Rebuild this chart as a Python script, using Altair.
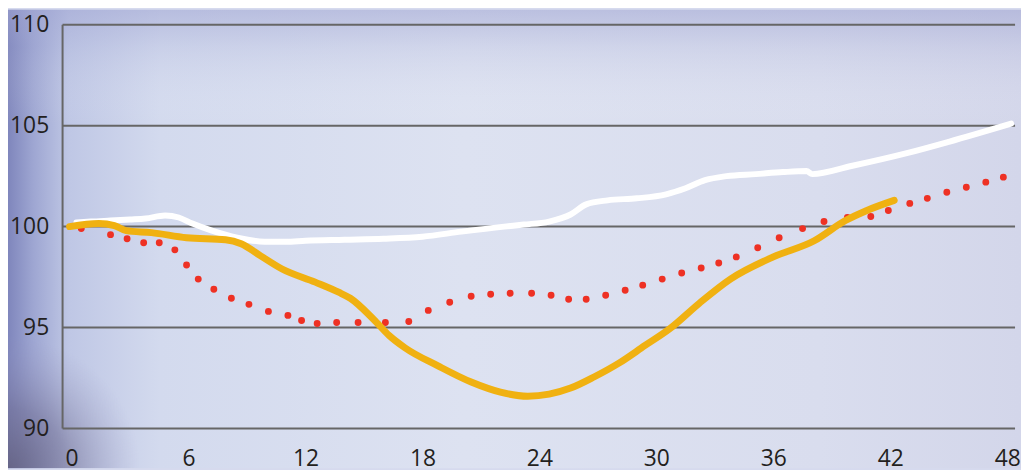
import altair as alt
import pandas as pd

# ---- data ----
white_x = [0.25, 1, 2, 3, 3.8, 4.8, 5.5, 6.2, 7.2, 8.5, 9.9, 11, 12, 14, 16, 18, 20, 22.2, 23.2, 24.5,
           25.6, 26.4, 27.5, 29, 30.5, 31.5, 32.5, 33.6, 35.1, 36.5, 37.7, 38.0, 40, 42.9, 45, 48.2]
white_y = [100.2, 100.25, 100.3, 100.35, 100.4, 100.55, 100.45, 100.15, 99.8, 99.45, 99.25, 99.25, 99.3,
           99.35, 99.4, 99.5, 99.75, 100.0, 100.1, 100.25, 100.6, 101.1, 101.3, 101.4, 101.6, 101.9,
           102.3, 102.5, 102.6, 102.7, 102.75, 102.6, 103.0, 103.65, 104.2, 105.1]

orange_x = [-0.1, 1.4, 2.2, 2.8, 4.1, 5.9, 7.9, 8.7, 9.7, 10.8, 12.5, 13.7, 14.3, 15.5, 16.3, 17.1, 18.8,
            20.5, 22, 23.4, 24.5, 25.6, 26.8, 28.1, 29.4, 30.7, 32.2, 33.8, 36.0, 38.1, 39.7, 40.8, 42.2]
orange_y = [100.0, 100.15, 100.05, 99.8, 99.7, 99.45, 99.35, 99.15, 98.55, 97.9, 97.25, 96.75, 96.45,
            95.4, 94.6, 94.0, 93.1, 92.3, 91.8, 91.6, 91.7, 92.0, 92.55, 93.25, 94.1, 94.95, 96.2, 97.4,
            98.5, 99.3, 100.3, 100.8, 101.3]

red_x = [0.5, 2.0, 2.85, 3.7, 4.5, 5.3, 5.9, 6.5, 7.3, 8.2, 9.1, 10.1, 11.1, 11.8, 12.6, 13.6, 14.7, 16.1,
         17.3, 18.3, 19.4, 20.5, 21.5, 22.5, 23.6, 24.6, 25.5, 26.4, 27.4, 28.4, 29.3, 30.3, 31.3, 32.3,
         33.2, 34.1, 35.2, 36.3, 37.5, 38.6, 39.8, 41.0, 41.9, 43.0, 43.9, 44.9, 45.9, 46.9, 47.8]
red_y = [99.9, 99.6, 99.4, 99.2, 99.2, 98.85, 98.1, 97.4, 96.9, 96.45, 96.15, 95.8, 95.6, 95.35, 95.2,
         95.25, 95.25, 95.25, 95.3, 95.85, 96.25, 96.55, 96.65, 96.7, 96.7, 96.6, 96.4, 96.4, 96.6, 96.85,
         97.1, 97.4, 97.7, 97.95, 98.2, 98.5, 98.95, 99.45, 99.9, 100.25, 100.45, 100.5, 100.8, 101.15,
         101.4, 101.7, 101.95, 102.2, 102.45]

x_ticks = [0, 6, 12, 18, 24, 30, 36, 42, 48]
y_ticks = [90, 95, 100, 105, 110]

W, H = 960, 407
PL, PT, PR, PB = 55, 15, 6, 40

white = pd.DataFrame({"x": white_x, "y": white_y})
orange = pd.DataFrame({"x": orange_x, "y": orange_y})
red = pd.DataFrame({"x": red_x, "y": red_y})
grid = pd.DataFrame({"y": y_ticks})
one = pd.DataFrame({"a": [0]})

xs = alt.Scale(domain=[-0.46, 48.4], nice=False, zero=False)
ys = alt.Scale(domain=[90, 110], nice=False, zero=False)

bg_h = alt.Chart(one).mark_rect(
    fill=alt.Gradient(
        gradient="linear", x1=0, x2=1, y1=0, y2=0,
        stops=[
            alt.GradientStop(color="#7f86bc", offset=0),
            alt.GradientStop(color="#9ea6d2", offset=0.025),
            alt.GradientStop(color="#bfc7e5", offset=0.06),
            alt.GradientStop(color="#d3daee", offset=0.15),
            alt.GradientStop(color="#dde2f1", offset=0.45),
            alt.GradientStop(color="#d9ddee", offset=0.8),
            alt.GradientStop(color="#d3d6ea", offset=1),
        ],
    )
).encode(x=alt.value(-PL), x2=alt.value(W + PR), y=alt.value(-PT), y2=alt.value(H + PB))

bg_v = alt.Chart(one).mark_rect(
    fill=alt.Gradient(
        gradient="linear", x1=0, x2=0, y1=0, y2=1,
        stops=[
            alt.GradientStop(color="rgba(160,165,210,0.55)", offset=0),
            alt.GradientStop(color="rgba(160,165,210,0.2)", offset=0.08),
            alt.GradientStop(color="rgba(255,255,255,0)", offset=0.25),
            alt.GradientStop(color="rgba(255,255,255,0)", offset=1),
        ],
    )
).encode(x=alt.value(-PL), x2=alt.value(W + PR), y=alt.value(-PT), y2=alt.value(H + PB))

# square box (edges outside the visible page) so the radial gradient stays circular
S = W + PR + PL
bg_spot = alt.Chart(one).mark_rect(
    fill=alt.Gradient(
        gradient="radial", x1=0, y1=1, r1=0, x2=0, y2=1, r2=1,
        stops=[
            alt.GradientStop(color="rgba(100,98,130,0.9)", offset=0),
            alt.GradientStop(color="rgba(110,108,145,0.55)", offset=0.059),
            alt.GradientStop(color="rgba(150,150,190,0)", offset=0.13),
            alt.GradientStop(color="rgba(150,150,190,0)", offset=1),
        ],
    )
).encode(x=alt.value(-PL), x2=alt.value(-PL + S), y=alt.value(H + PB - S), y2=alt.value(H + PB))

rules = alt.Chart(grid).mark_rule(color="#666666", strokeWidth=2).encode(
    y=alt.Y("y:Q", scale=ys), x=alt.value(0), x2=alt.value(W)
)
left_axis = alt.Chart(one).mark_rule(color="#666666", strokeWidth=2).encode(
    x=alt.value(0), y=alt.value(0), y2=alt.value(H)
)

red_pts = alt.Chart(red).mark_circle(color="#ee3124", opacity=1, size=48).encode(
    x=alt.X("x:Q", scale=xs), y=alt.Y("y:Q", scale=ys)
)
white_line = alt.Chart(white).mark_line(color="#ffffff", strokeWidth=6, interpolate="monotone",
                                        strokeCap="round").encode(
    x=alt.X("x:Q", scale=xs), y=alt.Y("y:Q", scale=ys)
)
orange_line = alt.Chart(orange).mark_line(color="#f0b111", strokeWidth=7, interpolate="monotone",
                                          strokeCap="round").encode(
    x=alt.X("x:Q", scale=xs,
            axis=alt.Axis(values=x_ticks, title=None, grid=False, domain=False, ticks=False,
                          labelPadding=19, labelFontSize=23, labelFont="Open Sans",
                          labelColor="#231f20", zindex=1, labelFlush=False, labelOverlap=False)),
    y=alt.Y("y:Q", scale=ys,
            axis=alt.Axis(values=y_ticks, title=None, grid=False, domain=False, ticks=False,
                          labelPadding=14, labelFontSize=23, labelFont="Open Sans",
                          labelColor="#231f20", zindex=1, labelFlush=False, labelOverlap=False)),
)

chart = alt.layer(bg_h, bg_v, bg_spot, rules, left_axis, red_pts, white_line, orange_line).properties(
    width=W, height=H,
    autosize=alt.AutoSizeParams(type="none"),
    padding={"left": PL, "top": PT, "right": PR, "bottom": PB},
).configure_view(stroke=None).configure(background="#d6daee")

chart.save("out.html", embed_options={"renderer": "svg", "actions": False})
